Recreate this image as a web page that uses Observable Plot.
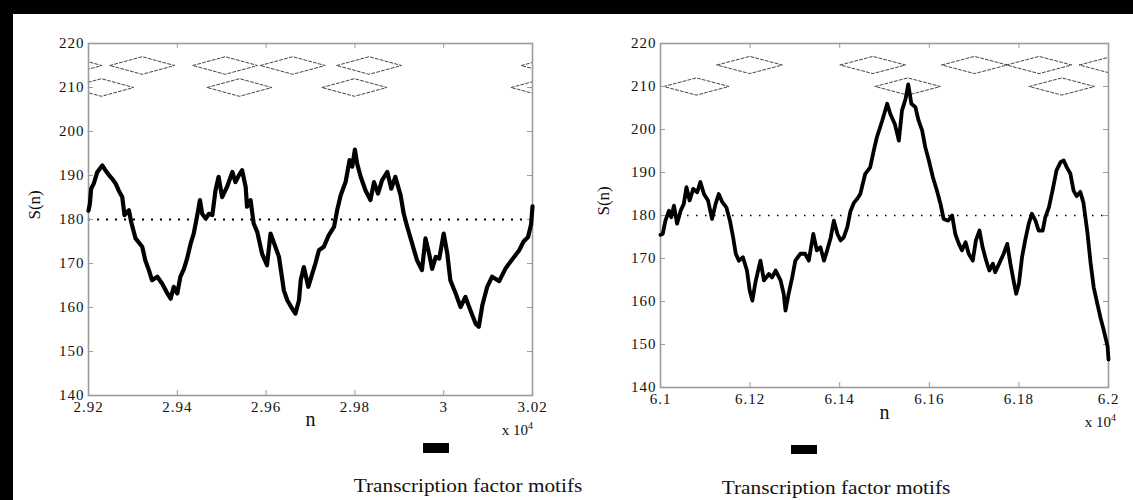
<!DOCTYPE html>
<html>
<head>
<meta charset="utf-8">
<script src="https://cdn.jsdelivr.net/npm/d3@7"></script>
<script src="https://cdn.jsdelivr.net/npm/@observablehq/plot@0.6"></script>
<style>
  html, body { margin: 0; padding: 0; background: #fff; }
  #page { position: relative; width: 1133px; height: 500px; overflow: hidden; background: #fff;
          font-family: "Liberation Serif", "DejaVu Serif", serif; color: #111; }
  #page svg, #page svg text { font-family: "Liberation Serif", "DejaVu Serif", serif !important; }
  #page svg g[aria-label$="tick label"] text { letter-spacing: 1px; }
  .bar-top { position: absolute; left: 0; top: 0; width: 1133px; height: 14px; background: #000; }
  .bar-left { position: absolute; left: 0; top: 0; width: 13px; height: 500px; background: #000; }
  .panel { position: absolute; top: 0; }
  .mult { position: absolute; font-size: 15px; line-height: 15px; white-space: nowrap; }
  .mult sup { font-size: 10px; vertical-align: 6px; line-height: 0; }
  .swatch { position: absolute; background: #000; }
  .caption { position: absolute; font-size: 19px; line-height: 19px; white-space: nowrap;
             transform: translateX(-50%) scaleX(1.12); transform-origin: 50% 50%; }
</style>
</head>
<body>
<div id="page">
  <div class="panel" id="left"></div>
  <div class="panel" id="right"></div>
  <div class="mult" style="right:600px;top:423px;">x 10<sup>4</sup></div>
  <div class="mult" style="right:17px;top:415px;">x 10<sup>4</sup></div>
  <div class="swatch" style="left:423px;top:443px;width:26px;height:10px;"></div>
  <div class="swatch" style="left:791px;top:445px;width:26px;height:9px;"></div>
  <div class="caption" style="left:468px;top:476px;">Transcription factor motifs</div>
  <div class="caption" style="left:836px;top:478px;">Transcription factor motifs</div>
  <div class="bar-top"></div>
  <div class="bar-left"></div>
</div>
<script>
// ---------------- data ----------------
const yTicks = [140, 150, 160, 170, 180, 190, 200, 210, 220];
const yTickLabels = ["140", "150", "160", "170", "180", "190", "200", "210", "220"];
const threshold = 180;
const motifRowLevels = [215, 210]; // upper row, lower row

const leftXTicks = [29200, 29400, 29600, 29800, 30000, 30200];
const leftXTickLabels = ["2.92", "2.94", "2.96", "2.98", "3", "3.02"];
const rightXTicks = [61000, 61200, 61400, 61600, 61800, 62000];
const rightXTickLabels = ["6.1", "6.12", "6.14", "6.16", "6.18", "6.2"];

const leftMotifsUpper = [29157, 29321, 29508, 29660, 29832, 30248];
const leftMotifsLower = [29229, 29540, 29799, 30225];
const rightMotifsUpper = [61199, 61474, 61701, 61845, 62008];
const rightMotifsLower = [61080, 61552, 61896];

const leftN = [29200,29203,29206,29212,29220,29231,29238,29246,29253,29261,29268,29276,29281,29291,29296,29306,29321,29328,29336,29343,29355,29366,29376,29385,29392,29400,29407,29415,29422,29430,29437,29445,29451,29456,29464,29471,29479,29486,29493,29501,29512,29524,29531,29539,29546,29554,29557,29565,29572,29580,29591,29602,29610,29617,29629,29640,29648,29659,29666,29674,29678,29685,29695,29704,29711,29719,29730,29741,29753,29760,29768,29779,29788,29794,29800,29805,29813,29824,29835,29843,29852,29861,29873,29882,29891,29903,29910,29918,29929,29940,29951,29959,29967,29974,29982,29990,30000,30008,30015,30027,30038,30049,30060,30072,30079,30087,30098,30109,30125,30140,30155,30170,30180,30190,30197,30200];
const leftS = [182.0,183.5,187.0,188.2,190.8,192.3,191.2,190.1,189.3,188.2,186.6,185.1,181.0,182.1,179.5,175.7,173.8,170.7,168.5,166.2,167.0,165.4,163.5,162.0,164.7,163.2,167.0,168.8,171.1,174.5,176.8,181.0,184.4,181.3,180.2,181.3,181.0,186.6,189.7,185.1,187.4,190.8,188.5,190.1,191.2,187.4,182.9,184.4,179.1,177.2,172.2,169.6,176.8,174.9,171.5,163.9,161.6,159.7,158.6,161.6,166.2,169.2,164.7,167.7,170.0,173.0,173.8,176.4,178.3,182.1,185.5,188.5,193.5,192.0,195.9,192.7,189.7,186.6,184.4,188.5,185.9,188.9,190.8,187.0,189.7,185.5,181.3,178.3,174.5,170.7,168.5,175.7,172.3,168.8,171.5,171.1,176.8,172.3,166.2,163.2,160.1,162.4,159.4,156.3,155.6,160.5,164.7,167.0,166.0,169.0,171.0,173.0,175.0,176.0,179.0,183.0];

const rightN = [61000,61005,61011,61019,61024,61030,61037,61045,61052,61058,61065,61073,61082,61089,61097,61106,61115,61123,61130,61138,61147,61155,61162,61168,61175,61184,61193,61199,61205,61212,61223,61231,61242,61249,61257,61268,61275,61279,61286,61294,61301,61312,61323,61331,61341,61349,61357,61365,61372,61380,61387,61395,61402,61409,61417,61424,61432,61440,61446,61457,61468,61476,61483,61495,61506,61513,61523,61532,61539,61547,61553,61560,61569,61576,61584,61591,61599,61608,61617,61625,61632,61642,61651,61658,61666,61673,61681,61688,61697,61704,61712,61719,61727,61734,61742,61747,61756,61766,61774,61781,61788,61794,61800,61807,61814,61822,61829,61837,61844,61853,61859,61867,61875,61884,61893,61900,61907,61915,61922,61929,61937,61944,61953,61960,61967,61975,61982,61989,61998,62000];
const rightS = [175.5,175.7,178.8,181.1,179.6,182.3,178.1,181.1,182.7,186.6,183.5,186.2,185.4,187.8,185.0,183.5,179.2,182.7,185.0,183.1,181.9,178.8,175.0,171.1,169.5,170.3,167.2,162.6,160.2,164.5,169.5,164.9,166.4,165.6,167.2,164.9,161.8,157.9,161.8,165.6,169.5,171.1,171.1,169.5,175.7,171.9,172.6,169.5,171.9,174.9,178.8,175.7,174.2,174.9,177.3,181.0,183.0,184.0,185.0,189.7,191.2,195.1,198.2,202.1,206.0,203.6,201.3,197.4,204.4,207.1,210.5,206.0,205.2,202.1,199.8,195.9,192.8,188.9,185.8,182.7,179.2,178.8,180.0,175.7,173.4,171.9,173.8,171.1,169.5,174.2,176.5,172.6,169.5,167.2,168.8,166.8,168.8,171.1,173.4,168.8,164.9,161.8,164.1,170.3,174.2,178.1,180.4,178.8,176.5,176.5,179.6,181.9,185.8,190.5,192.4,192.8,191.2,189.7,185.8,184.5,185.5,183.0,176.0,169.0,163.3,159.5,156.3,153.5,149.5,146.5];

// ---------------- drawing ----------------
const MOTIF_HALF_LEN = 73;   // bp, half length of a motif diamond
const MOTIF_HALF_H = 2;      // S units, half height of a diamond
const FRAME_GRAY = "#9c9c9c";
const SERIF = "'Liberation Serif', 'DejaVu Serif', serif";
const yLabelMap = new Map(yTicks.map((t, i) => [t, yTickLabels[i]]));

function diamonds(upper, lower) {
  const rows = [];
  [upper, lower].forEach((centers, r) => {
    const level = motifRowLevels[r];
    centers.forEach((c, i) => {
      const id = r + "-" + i;
      rows.push(
        {id, x: c - MOTIF_HALF_LEN, y: level},
        {id, x: c, y: level + MOTIF_HALF_H},
        {id, x: c + MOTIF_HALF_LEN, y: level},
        {id, x: c, y: level - MOTIF_HALF_H},
        {id, x: c - MOTIF_HALF_LEN, y: level}
      );
    });
  });
  return rows;
}

function panel(cfg) {
  const {n, s, upper, lower, xTicks, xLabels, width, height, ml, mr, mt, mb, dotW, dotDash, curveW, sLabelOffset, nLabelOffset} = cfg;
  const frameW = width - ml - mr, frameH = height - mt - mb;
  const xLabelMap = new Map(xTicks.map((t, i) => [t, xLabels[i]]));
  const curve = n.map((v, i) => ({n: v, s: s[i]}));
  return Plot.plot({
    width, height, marginLeft: ml, marginRight: mr, marginTop: mt, marginBottom: mb,
    x: {domain: [xTicks[0], xTicks[xTicks.length - 1]], axis: null},
    y: {domain: [yTicks[0], yTicks[yTicks.length - 1]], axis: null},
    style: {fontFamily: SERIF, fontSize: "15px", color: "#111", background: "transparent", overflow: "visible"},
    marks: [
      Plot.ruleY([threshold], {stroke: "#000", strokeWidth: dotW, strokeDasharray: dotDash}),
      Plot.line(diamonds(upper, lower), {x: "x", y: "y", z: "id", stroke: "#444", strokeWidth: 1, strokeDasharray: "3,2", clip: true}),
      Plot.frame({stroke: FRAME_GRAY, strokeWidth: 1.6}),
      Plot.tickX(xTicks, {x: d => d, stroke: FRAME_GRAY, insetTop: frameH - 5}),
      Plot.tickX(xTicks, {x: d => d, stroke: FRAME_GRAY, insetBottom: frameH - 5}),
      Plot.tickY(yTicks, {y: d => d, stroke: FRAME_GRAY, insetLeft: frameW - 5}),
      Plot.tickY(yTicks, {y: d => d, stroke: FRAME_GRAY, insetRight: frameW - 5}),
      Plot.axisX(xTicks, {tickSize: 0, tickPadding: 6, tickFormat: d => xLabelMap.get(d), label: null, fill: "#111", fontSize: 15, fontFamily: SERIF}),
      Plot.axisY(yTicks, {tickSize: 0, tickPadding: 4, tickFormat: d => yLabelMap.get(d), label: null, fill: "#111", fontSize: 15, fontFamily: SERIF}),
      Plot.line(curve, {x: "n", y: "s", stroke: "#000", strokeWidth: curveW, strokeLinejoin: "round", strokeLinecap: "round"}),
      Plot.text(["S(n)"], {text: d => d, frameAnchor: "left", dx: -sLabelOffset, rotate: -90, fontSize: 17, fontFamily: SERIF, fill: "#111"}),
      Plot.text(["n"], {text: d => d, frameAnchor: "bottom", dy: nLabelOffset, fontSize: 20, fontFamily: SERIF, fill: "#111"})
    ]
  });
}

const leftEl = document.getElementById("left");
leftEl.style.left = "0px";
leftEl.appendChild(panel({
  n: leftN, s: leftS, upper: leftMotifsUpper, lower: leftMotifsLower,
  xTicks: leftXTicks, xLabels: leftXTickLabels,
  width: 566, height: 440, ml: 88, mr: 34, mt: 43, mb: 45,
  dotW: 2, dotDash: "2,7", curveW: 4.2, sLabelOffset: 54, nLabelOffset: 30
}));

const rightEl = document.getElementById("right");
rightEl.style.left = "566px";
rightEl.appendChild(panel({
  n: rightN, s: rightS, upper: rightMotifsUpper, lower: rightMotifsLower,
  xTicks: rightXTicks, xLabels: rightXTickLabels,
  width: 567, height: 440, ml: 94, mr: 25, mt: 43, mb: 53,
  dotW: 1.5, dotDash: "1.5,7.5", curveW: 3.8, sLabelOffset: 57, nLabelOffset: 31
}));
</script>
</body>
</html>
